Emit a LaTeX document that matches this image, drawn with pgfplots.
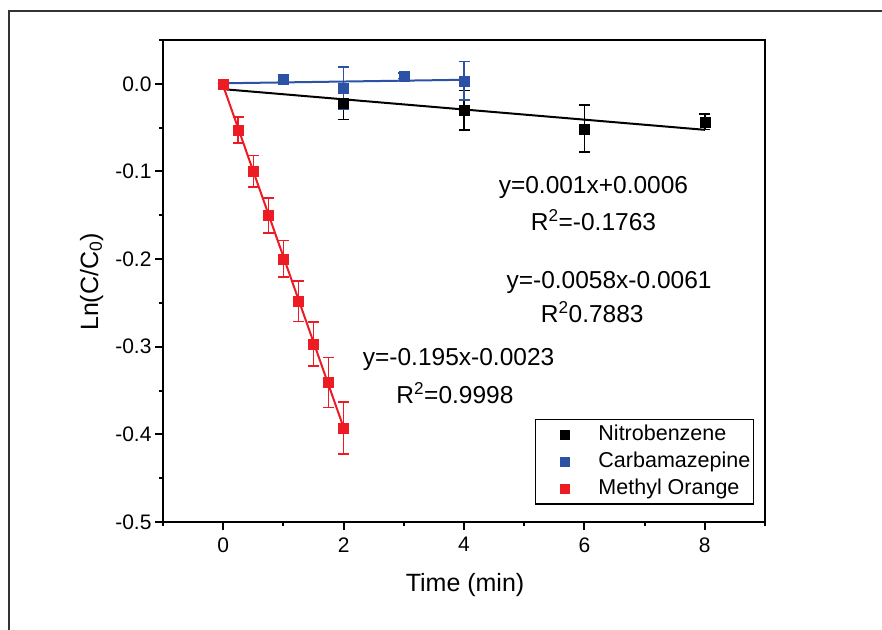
\documentclass[border=0pt]{standalone}
\usepackage{fontspec}
\setmainfont{Liberation Sans}
\usepackage{pgfplots}
\pgfplotsset{compat=1.18}
\usepackage{pgfplotstable}
\definecolor{cblue}{RGB}{43,82,165}
\definecolor{cred}{RGB}{237,28,36}

\pgfplotstableread{
x y e
0 0 0
2 -0.0224 0.0185
4 -0.0300 0.0226
6 -0.0513 0.0268
8 -0.0433 0.0090
}\nitro
\pgfplotstableread{
x y e
0 0 0
1 0.0049 0.0035
2 -0.0049 0.0240
3 0.0090 0.0030
4 0.0034 0.0220
}\carba
\pgfplotstableread{
x y e
0 0 0
0.25 -0.0527 0.0150
0.50 -0.0999 0.0180
0.75 -0.1500 0.0200
1.00 -0.1997 0.0210
1.25 -0.2480 0.0230
1.50 -0.2970 0.0250
1.75 -0.3410 0.0285
2.00 -0.3926 0.0296
}\methyl

\newcommand{\tfont}{\fontsize{21pt}{24pt}\selectfont}
\newcommand{\afont}{\fontsize{24.5pt}{28pt}\selectfont}
\newcommand{\lfont}{\fontsize{25pt}{29pt}\selectfont}

\pgfplotsset{
  mylegimg/.style={legend image code/.code={%
    \path[draw=none, fill=none] (0pt,-5pt) rectangle (60pt,5pt);
    \fill[##1, draw=none] (22pt,-5pt) rectangle (32pt,5pt);}},
  dataplot/.style={only marks, #1, mark=square*, mark size=5pt,
    error bars/.cd, y dir=both, y explicit,
    error bar style={line width=1.6pt},
    error mark options={#1, rotate=90, line width=1.6pt, mark size=5.5pt}},
}

\begin{document}
\begin{tikzpicture}[x=1pt,y=1pt]
\useasboundingbox (0,0) rectangle (882,629);
\draw[line width=1.3pt, color=black!80] (9,-5) -- (9,618) -- (890,618);
\begin{axis}[
  at={(163pt,107pt)}, anchor=south west,
  width=602pt, height=482pt, scale only axis,
  xmin=-1, xmax=9, ymin=-0.5, ymax=0.05,
  axis line style={line width=2pt},
  xtick={0,2,4,6,8}, xticklabels={0,2,4,6,8},
  minor xtick={-1,1,3,5,7,9},
  ytick={-0.5,-0.4,-0.3,-0.2,-0.1,0},
  yticklabels={-0.5,-0.4,-0.3,-0.2,-0.1,0.0},
  minor ytick={-0.45,-0.35,-0.25,-0.15,-0.05,0.05},
  tick align=outside, xtick pos=bottom, ytick pos=left,
  major tick length=8pt, minor tick length=4pt,
  every tick/.style={line width=2pt, black},
  tick label style={font=\tfont},
  xticklabel style={yshift=-4pt},
  xlabel={Time (min)}, ylabel={Ln(C/C\textsubscript{0})},
  label style={font=\lfont},
  xlabel style={at={(rel axis cs:0.5017,-0.13)}, anchor=center},
  ylabel style={at={(rel axis cs:-0.1184,0.498)}, anchor=center},
  legend style={at={(rel axis cs:0.9817,0.0353)}, anchor=south east,
    draw=black, line width=1.5pt, font=\fontsize{21.5pt}{24pt}\selectfont,
    inner xsep=3pt, inner ysep=5pt, row sep=6.5pt, column sep=0pt,
    nodes={inner sep=0pt, text height=15.5pt, text depth=5pt}},
  legend cell align=left,
  clip=false,
]
% fit lines
\addplot[black, line width=2pt, forget plot] coordinates {(0,-0.0061) (8,-0.0525)};
\addplot[cblue, line width=2pt, forget plot] coordinates {(0,0.0006) (4,0.0046)};
\addplot[cred, line width=2pt, forget plot] coordinates {(0,-0.0023) (2,-0.3923)};
% data
\addplot[mylegimg, dataplot=black] table[x=x, y=y, y error=e] {\nitro};
\addlegendentry{Nitrobenzene}
\addplot[mylegimg, dataplot=cblue] table[x=x, y=y, y error=e] {\carba};
\addlegendentry{Carbamazepine}
\addplot[mylegimg, dataplot=cred] table[x=x, y=y, y error=e] {\methyl};
\addlegendentry{Methyl Orange}
% annotations
\node[font=\afont] at (axis cs:6.15,-0.1185) {y=0.001x+0.0006};
\node[font=\afont] at (axis cs:6.15,-0.156) {R\textsuperscript{2}=-0.1763};
\node[font=\afont] at (axis cs:6.41,-0.2267) {y=-0.0058x-0.0061};
\node[font=\afont] at (axis cs:6.13,-0.261) {R\textsuperscript{2}0.7883};
\node[font=\afont] at (axis cs:3.91,-0.3143) {y=-0.195x-0.0023};
\node[font=\afont] at (axis cs:3.85,-0.353) {R\textsuperscript{2}=0.9998};
\end{axis}
\end{tikzpicture}
\end{document}
